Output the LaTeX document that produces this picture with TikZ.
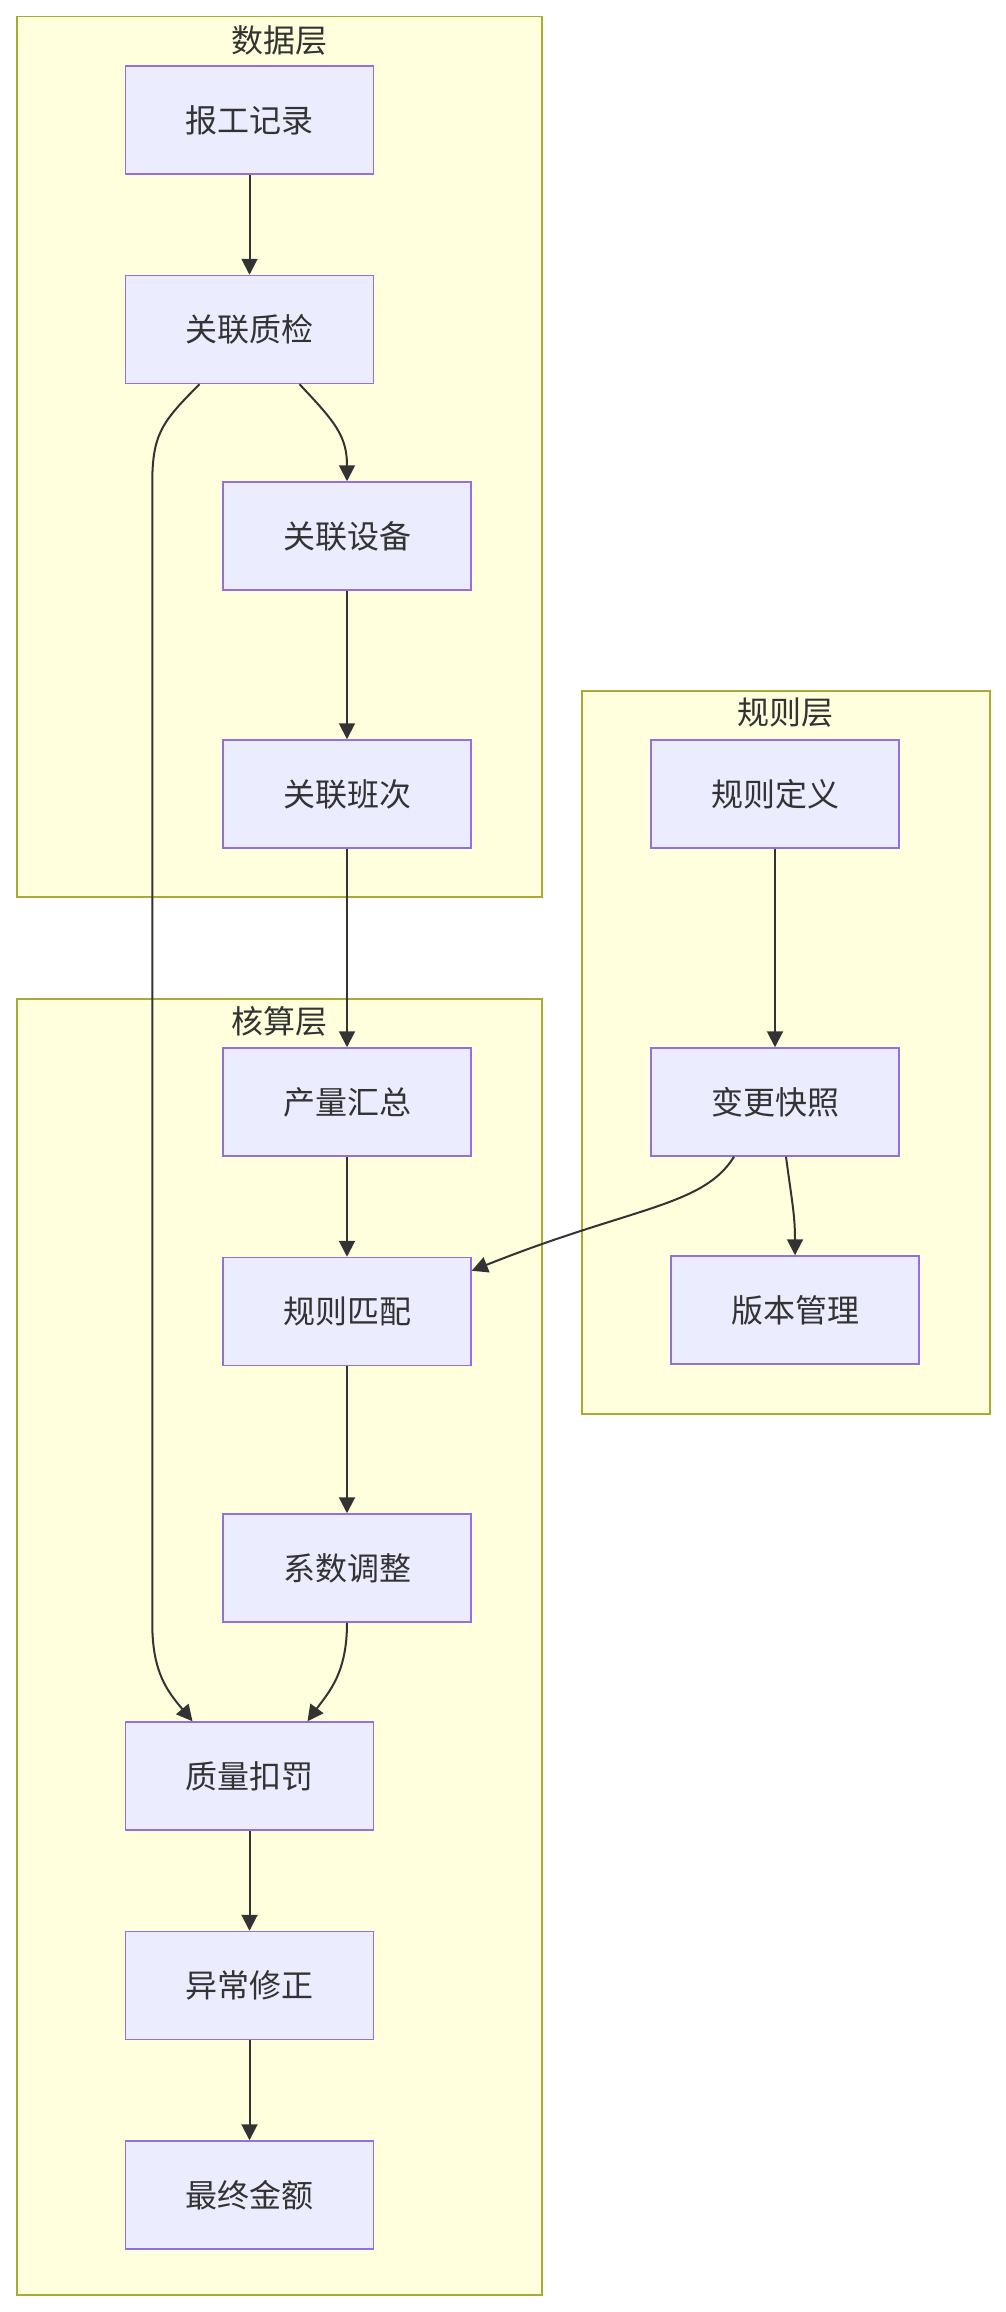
\documentclass[tikz,border=0pt]{standalone}
\usepackage{fontspec}
\setmainfont{Noto Sans CJK SC}
\usepackage{tikz}
\usetikzlibrary{positioning,arrows.meta,backgrounds,calc}
\definecolor{cNode}{HTML}{ECECFF}
\definecolor{cNodeB}{HTML}{9370DB}
\definecolor{cGroup}{HTML}{FFFFDE}
\definecolor{cGroupB}{HTML}{AAAA33}
\definecolor{cText}{HTML}{333333}
\definecolor{cLine}{HTML}{333333}

\begin{document}
\begin{tikzpicture}[
  x=1pt,y=-1pt,
  font=\fontsize{32}{38}\selectfont,
  >={Triangle[length=16pt,width=16pt]},
  node distance=100pt,
  block/.style={draw=cNodeB,fill=cNode,line width=1.5pt,text=cText,
    minimum width=248pt,minimum height=108pt,inner sep=0pt},
  flow/.style={->,line width=2pt,draw=cLine},
  grp/.style={draw=cGroupB,fill=cGroup,line width=1.5pt,inner sep=0pt,anchor=north west},
  grptitle/.style={text=cText,inner sep=0pt},
]
\useasboundingbox (0,0) rectangle (1005,2312);

% =====================================================================
% GROUPS
% =====================================================================
\node[grp,minimum width=525pt,minimum height=880pt]  (DATA) at (16,16)   {};
\node[grp,minimum width=408pt,minimum height=723pt]  (RULE) at (581,690) {};
\node[grp,minimum width=525pt,minimum height=1296pt] (CALC) at (16,998)  {};
\node[grptitle] at ($(DATA.north)+(0,24)$) {数据层};
\node[grptitle] at ($(RULE.north)+(0,23)$) {规则层};
\node[grptitle] at ($(CALC.north)+(0,23)$) {核算层};

% =====================================================================
% DATA LAYER
% =====================================================================
\node[block] (baogong) at (249.5,120) {报工记录};
\node[block,below=of baogong] (zhijian) {关联质检};
\node[block] (shebei) at (347,536) {关联设备};
\node[block] (banci)  at (347,794) {关联班次};

% =====================================================================
% RULE LAYER
% =====================================================================
\node[block] (dingyi)   at (775,794)  {规则定义};
\node[block] (kuaizhao) at (775,1102) {变更快照};
\node[block] (banben)   at (795,1310) {版本管理};

% =====================================================================
% CALCULATION LAYER
% =====================================================================
\node[block] (huizong)   at (347,1102) {产量汇总};
\node[block,below=of huizong] (pipei) {规则匹配};
\node[block] (tiaozheng) at (347,1568) {系数调整};
\node[block] (koufa)     at (249.5,1776) {质量扣罚};
\node[block,below=of koufa] (xiuzheng) {异常修正};
\node[block,below=of xiuzheng] (jine) {最终金额};

% =====================================================================
% CONNECTORS
% =====================================================================
\draw[flow] (baogong) -- (zhijian);
\draw[flow] ($(zhijian.south)+(50,0)$) .. controls ($(zhijian.south)+(86,38)$) and ($(shebei.north)+(0,-45)$) .. (shebei.north);
\draw[flow] (shebei) -- (banci);
\draw[flow] (banci) -- (huizong);

% quality check bypasses the middle column down to the penalty box
\coordinate (byTop) at ($(zhijian.south west)+(27.5,100)$);
\coordinate (byBot) at (byTop |- tiaozheng.south);
\draw[flow] ($(zhijian.south)+(-50,0)$) .. controls ($(zhijian.south)+(-88,38)$) and ($(byTop)+(0,-50)$) .. (byTop)
  -- (byBot) .. controls ($(byBot)+(0,50)$) and ($(koufa.north)+(-82,-30)$) .. ($(koufa.north)+(-57,0)$);

\draw[flow] (dingyi) -- (kuaizhao);
\draw[flow] ($(kuaizhao.south)+(11,0)$) .. controls ($(kuaizhao.south)+(17,45)$) and ($(banben.north)+(0,-40)$) .. (banben.north);
\draw[flow] ($(kuaizhao.south)+(-41,0)$) .. controls ($(kuaizhao.south)+(-72,50)$) and ($(pipei.north east)+(160,-50)$) .. ($(pipei.north east)+(0,14)$);

\draw[flow] (huizong) -- (pipei);
\draw[flow] (pipei) -- (tiaozheng);
\draw[flow] (tiaozheng.south) .. controls ($(tiaozheng.south)+(0,50)$) and ($(koufa.north)+(80,-30)$) .. ($(koufa.north)+(58,0)$);
\draw[flow] (koufa) -- (xiuzheng);
\draw[flow] (xiuzheng) -- (jine);

\end{tikzpicture}
\end{document}
